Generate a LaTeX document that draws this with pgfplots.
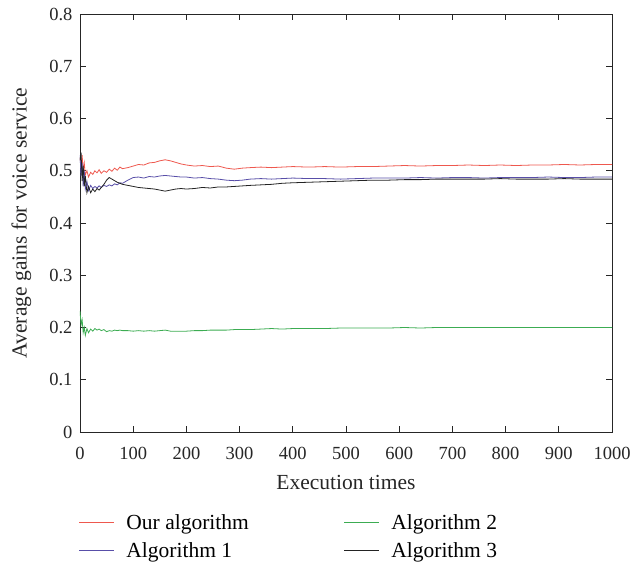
\documentclass[border=0pt]{standalone}
\usepackage{fontspec}
\setmainfont{Liberation Serif}
\usepackage{pgfplots}
\pgfplotsset{compat=1.18}
\definecolor{cred}{RGB}{238,88,78}
\definecolor{cblue}{RGB}{88,78,168}
\definecolor{cgreen}{RGB}{60,172,82}
\definecolor{cblack}{RGB}{35,35,35}
\begin{document}
\begin{tikzpicture}
\begin{axis}[
  scale only axis,
  width=532pt, height=418pt,
  xmin=0, xmax=1000, ymin=0, ymax=0.8,
  xtick={0,100,...,1000},
  ytick={0,0.1,...,0.8},
  tick align=inside,
  major tick length=6pt,
  axis line style={line width=0.8pt, black!85},
  every tick/.style={line width=0.8pt, black!85},
  /pgf/number format/assume math mode=true,
  /pgf/number format/1000 sep={},
  yticklabel style={/pgf/number format/fixed, /pgf/number format/precision=1, xshift=-4pt},
  xticklabel style={yshift=-12pt},
  tick label style={font=\fontsize{18.5}{22}\selectfont, text=black!85},
  label style={font=\fontsize{21.5}{25}\selectfont, text=black!85},
  xlabel={Execution times},
  ylabel={Average gains for voice service},
  xlabel style={at={(axis description cs:0.5,-0.12)}, anchor=center},
  ylabel style={at={(axis description cs:-0.11,0.5)}, anchor=center},
  legend columns=2,
  legend cell align=left,
  legend image code/.code={\draw[#1, line width=1pt] (0pt,0pt) -- (35pt,0pt); \path[draw=none,fill=none] (45pt,0pt) circle[radius=0pt];},
  legend style={draw=none, fill=none, font=\fontsize{21.5}{25}\selectfont,
    at={(rel axis cs:-0.008,-0.188)}, anchor=north west,
    /tikz/every even column/.append style={column sep=93pt},
    row sep=7pt},
]
\addplot[cred, line width=0.8pt] coordinates {
(0,0.525)(2,0.51)(4,0.53)(6,0.50)(8,0.515)(10,0.492)(13,0.50)(16,0.488)(20,0.497)(24,0.493)(28,0.50)(32,0.496)(36,0.502)(40,0.495)(45,0.500)(50,0.497)(55,0.503)(60,0.499)(65,0.505)(70,0.501)(75,0.507)(80,0.504)(90,0.506)(100,0.509)(110,0.512)(120,0.511)(130,0.515)(140,0.516)(150,0.519)(160,0.521)(170,0.519)(180,0.516)(190,0.513)(200,0.511)(215,0.509)(230,0.510)(245,0.508)(260,0.509)(275,0.505)(290,0.503)(305,0.505)(320,0.506)(340,0.507)(360,0.506)(380,0.507)(400,0.508)(430,0.507)(460,0.508)(490,0.507)(520,0.508)(550,0.508)(580,0.509)(610,0.510)(640,0.509)(670,0.510)(700,0.510)(730,0.511)(760,0.510)(790,0.511)(820,0.510)(850,0.511)(880,0.511)(910,0.512)(940,0.511)(970,0.512)(1000,0.512)
};
\addlegendentry{Our algorithm}
\addplot[cgreen, line width=0.8pt] coordinates {
(0,0.232)(2,0.205)(4,0.215)(6,0.19)(8,0.20)(10,0.185)(13,0.198)(16,0.19)(20,0.197)(24,0.193)(28,0.198)(32,0.195)(36,0.197)(40,0.194)(45,0.196)(50,0.192)(55,0.194)(60,0.193)(65,0.195)(70,0.194)(75,0.195)(80,0.194)(90,0.194)(100,0.193)(110,0.194)(120,0.193)(130,0.194)(140,0.193)(150,0.194)(160,0.195)(170,0.193)(180,0.193)(190,0.193)(200,0.193)(215,0.194)(230,0.194)(245,0.195)(260,0.195)(275,0.195)(290,0.196)(305,0.196)(320,0.196)(340,0.197)(360,0.198)(380,0.197)(400,0.198)(430,0.198)(460,0.198)(490,0.199)(520,0.199)(550,0.199)(580,0.199)(610,0.200)(640,0.199)(670,0.200)(700,0.200)(730,0.200)(760,0.200)(790,0.200)(820,0.200)(850,0.200)(880,0.200)(910,0.200)(940,0.200)(970,0.200)(1000,0.200)
};
\addlegendentry{Algorithm 2}
\addplot[cblue, line width=0.8pt] coordinates {
(0,0.53)(2,0.49)(4,0.515)(6,0.47)(8,0.50)(10,0.465)(13,0.48)(16,0.462)(20,0.472)(24,0.466)(28,0.470)(32,0.467)(36,0.471)(40,0.468)(45,0.472)(50,0.470)(55,0.473)(60,0.471)(65,0.475)(70,0.473)(75,0.477)(80,0.476)(90,0.482)(100,0.487)(110,0.488)(120,0.486)(130,0.489)(140,0.488)(150,0.490)(160,0.491)(170,0.490)(180,0.489)(190,0.488)(200,0.488)(215,0.486)(230,0.487)(245,0.485)(260,0.484)(275,0.482)(290,0.481)(305,0.482)(320,0.484)(340,0.485)(360,0.484)(380,0.485)(400,0.486)(430,0.485)(460,0.485)(490,0.484)(520,0.485)(550,0.486)(580,0.486)(610,0.486)(640,0.487)(670,0.486)(700,0.487)(730,0.487)(760,0.486)(790,0.487)(820,0.487)(850,0.487)(880,0.488)(910,0.487)(940,0.487)(970,0.488)(1000,0.488)
};
\addlegendentry{Algorithm 1}
\addplot[cblack, line width=0.8pt] coordinates {
(0,0.52)(2,0.535)(4,0.48)(6,0.51)(8,0.47)(10,0.49)(13,0.458)(16,0.47)(20,0.458)(24,0.465)(28,0.460)(32,0.466)(36,0.463)(40,0.468)(45,0.474)(50,0.482)(55,0.487)(60,0.484)(65,0.481)(70,0.478)(75,0.476)(80,0.474)(90,0.472)(100,0.470)(110,0.468)(120,0.467)(130,0.466)(140,0.465)(150,0.463)(160,0.461)(170,0.463)(180,0.465)(190,0.466)(200,0.465)(215,0.466)(230,0.468)(245,0.467)(260,0.469)(275,0.469)(290,0.470)(305,0.471)(320,0.472)(340,0.473)(360,0.474)(380,0.476)(400,0.477)(430,0.478)(460,0.479)(490,0.480)(520,0.481)(550,0.482)(580,0.482)(610,0.483)(640,0.483)(670,0.484)(700,0.484)(730,0.484)(760,0.484)(790,0.485)(820,0.484)(850,0.484)(880,0.484)(910,0.485)(940,0.484)(970,0.484)(1000,0.484)
};
\addlegendentry{Algorithm 3}
\end{axis}
\pgfresetboundingbox
\useasboundingbox (-80pt,-133pt) rectangle (551pt,432pt);
\end{tikzpicture}
\end{document}
